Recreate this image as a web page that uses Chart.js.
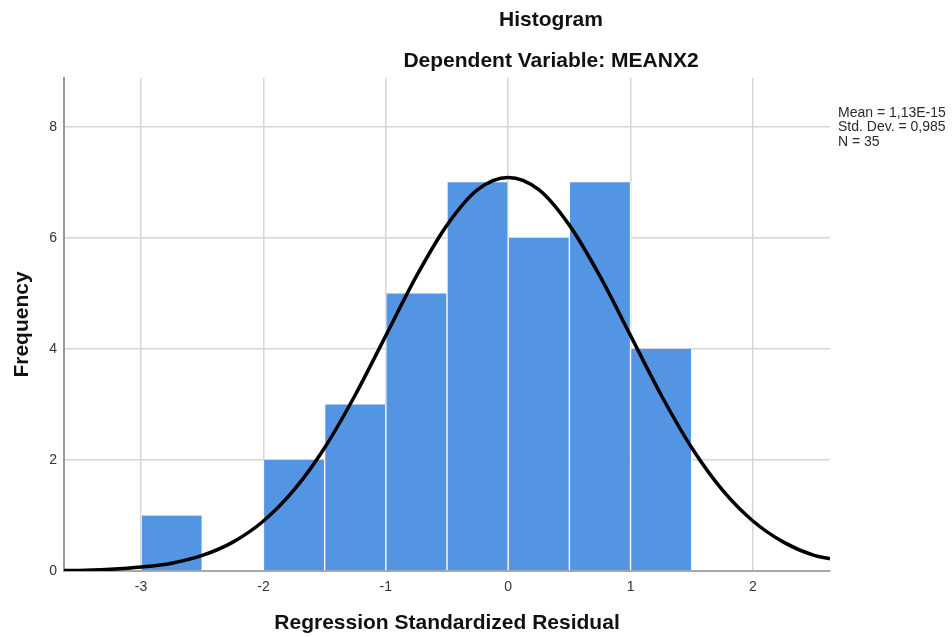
<!DOCTYPE html>
<html>
<head>
<meta charset="utf-8">
<script src="https://cdn.jsdelivr.net/npm/chart.js@4"></script>
<style>
  body { margin: 0; background: #fff; }
  #wrap { width: 952px; height: 637px; }
</style>
</head>
<body>
<div id="wrap"><canvas id="chart1"></canvas></div>
<script>
// histogram bins (centres, width 0.5) and counts
const binCenters = [-2.75, -2.25, -1.75, -1.25, -0.75, -0.25, 0.25, 0.75, 1.25];
const frequencies = [1, 0, 2, 3, 5, 7, 6, 7, 4];

// normal curve
const curveX = [-3.63, -3.5, -3.25, -3, -2.75, -2.5, -2.25, -2, -1.75, -1.5, -1.25, -1, -0.75, -0.5, -0.25,
  0, 0.25, 0.5, 0.75, 1, 1.25, 1.5, 1.75, 2, 2.25, 2.5, 2.63];
const curveY = [0.01, 0.01, 0.03, 0.07, 0.14, 0.28, 0.52, 0.9, 1.46, 2.22, 3.17, 4.24, 5.31, 6.23, 6.87,
  7.09, 6.87, 6.23, 5.31, 4.24, 3.17, 2.22, 1.46, 0.9, 0.52, 0.28, 0.22];

const statsLines = ['Mean = 1,13E-15', 'Std. Dev. = 0,985', 'N = 35'];
const titleLines = ['Histogram', 'Dependent Variable: MEANX2'];

const FONT = '"Liberation Sans", Arial, sans-serif';

const extraText = {
  id: 'extraText',
  afterDraw(chart) {
    const c = chart.ctx;
    c.save();
    c.fillStyle = '#111';
    c.textAlign = 'center';
    c.textBaseline = 'middle';
    c.font = 'bold 21px ' + FONT;
    c.fillText(titleLines[0], 551, 20);
    c.fillText(titleLines[1], 551, 61);
    c.textAlign = 'left';
    c.font = '14px ' + FONT;
    c.fillStyle = '#2a2a2a';
    statsLines.forEach((s, i) => c.fillText(s, 838, 113 + i * 14.5));
    c.restore();
  }
};

const onlyWhole = step => axis => {
  axis.ticks = axis.ticks.filter(t => Math.abs(t.value / step - Math.round(t.value / step)) < 1e-9);
};

const ctx1 = document.getElementById('chart1').getContext('2d');
new Chart(ctx1, {
  type: 'bar',
  data: {
    datasets: [{
      type: 'line',
      data: curveX.map((x, i) => ({ x: x, y: curveY[i] })),
      borderColor: '#000',
      borderWidth: 3.5,
      pointRadius: 0,
      cubicInterpolationMode: 'monotone',
      fill: false,
      order: 0
    }, {
      type: 'bar',
      data: binCenters.map((x, i) => ({ x: x, y: frequencies[i] })),
      backgroundColor: '#5394e3',
      borderColor: '#ffffff',
      borderWidth: { left: 1, right: 1, top: 0, bottom: 0 },
      borderSkipped: false,
      categoryPercentage: 1,
      barPercentage: 1,
      order: 1
    }]
  },
  options: {
    responsive: true,
    maintainAspectRatio: false,
    animation: false,
    layout: { padding: { left: 0, top: 78, right: 122, bottom: 0 } },
    plugins: {
      legend: { display: false },
      tooltip: { enabled: false }
    },
    scales: {
      x: {
        type: 'linear',
        min: -3.63,
        max: 2.63,
        offset: false,
        afterBuildTicks: onlyWhole(1),
        afterFit: s => { s.height = 66; },
        ticks: { stepSize: 1, padding: 8, color: '#333', font: { family: FONT, size: 14 } },
        grid: { color: '#d6d6d6', lineWidth: 1.5, drawTicks: false, offset: false },
        border: { color: '#a8a8a8', width: 2 },
        title: {
          display: true,
          text: 'Regression Standardized Residual',
          color: '#111',
          font: { family: FONT, size: 21, weight: 'bold' },
          padding: { top: 0, bottom: 1 }
        }
      },
      y: {
        min: 0,
        max: 8.88,
        afterBuildTicks: onlyWhole(2),
        afterFit: s => { s.width = 64; },
        ticks: { stepSize: 2, padding: 7, color: '#333', font: { family: FONT, size: 14 } },
        grid: { color: '#d6d6d6', lineWidth: 1.5, drawTicks: false },
        border: { color: '#999', width: 2 },
        title: {
          display: true,
          text: 'Frequency',
          color: '#111',
          font: { family: FONT, size: 21, weight: 'bold' },
          padding: { top: 10, bottom: 0 }
        }
      }
    }
  },
  plugins: [extraText]
});
</script>
</body>
</html>
